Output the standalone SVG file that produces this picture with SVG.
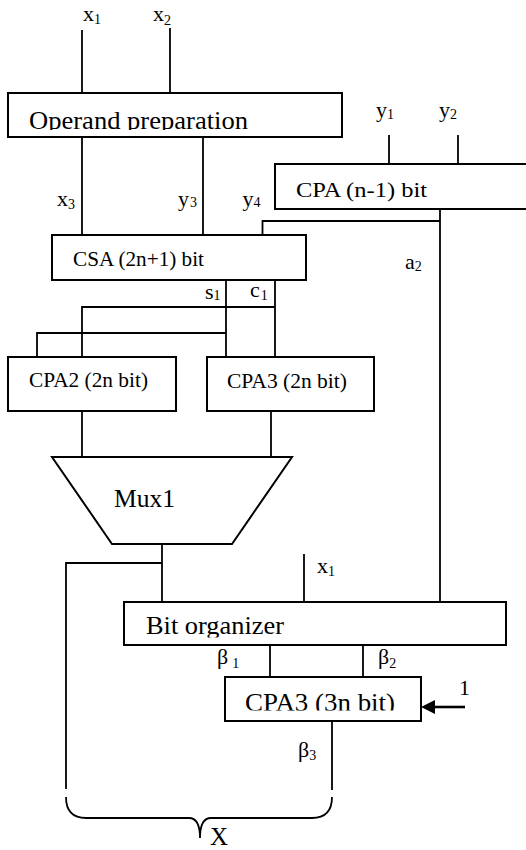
<svg xmlns="http://www.w3.org/2000/svg" width="526" height="850" viewBox="0 0 526 850">
  <style>
    .box { fill: #fff; stroke: #000; stroke-width: 2; }
    .wire { fill: none; stroke: #000; stroke-width: 1.8; }
    text { font-family: 'Liberation Serif', 'DejaVu Serif', serif; fill: #000; }
    .lbl { font-size: 22px; }
    .sub { font-size: 14px; }
  </style>
  <defs>
    <!-- text frames that cut off the bottom of the box captions -->
    <clipPath id="clip-operand"><rect x="8" y="93" width="334" height="37"/></clipPath>
    <clipPath id="clip-bitorg"><rect x="124" y="602" width="382" height="35.5"/></clipPath>
    <clipPath id="clip-cpa3n"><rect x="225" y="677" width="196" height="33.5"/></clipPath>
  </defs>

  <rect width="526" height="850" fill="#fff"/>

  <!-- connectors -->
  <g id="connectors">
    <!-- inputs to operand preparation -->
    <line class="wire" x1="82" y1="30" x2="82" y2="93"/>
    <line class="wire" x1="170" y1="28" x2="170" y2="93"/>
    <!-- operand preparation to CSA -->
    <line class="wire" x1="82" y1="137" x2="82" y2="235"/>
    <line class="wire" x1="203" y1="137" x2="203" y2="235"/>
    <!-- y inputs to CPA (n-1) -->
    <line class="wire" x1="389" y1="135" x2="389" y2="164"/>
    <line class="wire" x1="458" y1="135" x2="458" y2="164"/>
    <!-- CPA (n-1) output: y4 into CSA and a2 down to bit organizer -->
    <polyline class="wire" points="262.5,240.5 262.5,221 440,221"/>
    <line class="wire" x1="440" y1="209" x2="440" y2="603"/>
    <!-- CSA sum/carry to the two CPAs -->
    <line class="wire" x1="226" y1="280" x2="226" y2="357"/>
    <line class="wire" x1="275" y1="280" x2="275" y2="357"/>
    <polyline class="wire" points="275,307 82,307 82,357"/>
    <polyline class="wire" points="226,333 37,333 37,357"/>
    <!-- CPAs to Mux1 -->
    <line class="wire" x1="82" y1="411" x2="82" y2="457"/>
    <line class="wire" x1="271" y1="411" x2="271" y2="457"/>
    <!-- Mux1 output -->
    <line class="wire" x1="162" y1="544" x2="162" y2="602"/>
    <polyline class="wire" points="162,563 66,563 66,789"/>
    <!-- x1 into bit organizer -->
    <line class="wire" x1="304" y1="554" x2="304" y2="602"/>
    <!-- bit organizer to CPA3 (3n) -->
    <line class="wire" x1="270" y1="645" x2="270" y2="677"/>
    <line class="wire" x1="363" y1="645" x2="363" y2="677"/>
    <!-- carry-in 1 -->
    <line x1="465" y1="707" x2="435" y2="707" stroke="#000" stroke-width="2.6"/>
    <path d="M421,707 L435,700 L435,714 Z" fill="#000"/>
    <!-- beta3 output -->
    <line class="wire" x1="332" y1="721" x2="332" y2="790"/>
    <!-- brace gathering the result X -->
    <path class="wire" d="M66,797 Q66,818 86,818 L189,818 Q200,818 200,838 Q200,818 211,818 L312,818 Q332,818 332,797"/>

    <!-- signal labels -->
    <text class="lbl" x="83" y="20.5">x<tspan class="sub" dy="3.5">1</tspan></text>
    <text class="lbl" x="153" y="20.5">x<tspan class="sub" dy="4">2</tspan></text>
    <text class="lbl" x="57" y="205.5">x<tspan class="sub" dy="3">3</tspan></text>
    <text class="lbl" x="178" y="206">y<tspan class="sub" dx="1" dy="1">3</tspan></text>
    <text class="lbl" x="242.5" y="206">y<tspan class="sub" dy="1">4</tspan></text>
    <text class="lbl" x="376" y="116.5">y<tspan class="sub" dy="2">1</tspan></text>
    <text class="lbl" x="439" y="116.5">y<tspan class="sub" dy="2">2</tspan></text>
    <text class="lbl" x="405" y="269">a<tspan class="sub" dy="2">2</tspan></text>
    <text class="lbl" x="205" y="298.5">s<tspan class="sub" dy="1.5">1</tspan></text>
    <text class="lbl" x="250" y="297">c<tspan class="sub" dx="1" dy="3">1</tspan></text>
    <text class="lbl" x="317" y="573">x<tspan class="sub" dy="3">1</tspan></text>
    <text class="lbl" x="217" y="664">β<tspan class="sub" dx="4" dy="4">1</tspan></text>
    <text class="lbl" x="378" y="664">β<tspan class="sub" dy="4">2</tspan></text>
    <text class="lbl" x="298" y="757">β<tspan class="sub" dy="3">3</tspan></text>
    <text class="lbl" x="459" y="695">1</text>
    <text x="210" y="844.5" style="font-size:25px">X</text>
  </g>

  <!-- blocks -->
  <g id="operand-preparation">
    <rect class="box" x="8" y="93" width="334" height="44"/>
    <text x="29" y="128.5" font-size="26" textLength="219" lengthAdjust="spacingAndGlyphs" clip-path="url(#clip-operand)">Operand preparation</text>
  </g>

  <g id="cpa-n1">
    <rect class="box" x="275" y="164" width="260" height="45"/>
    <text x="296" y="196.5" font-size="22" textLength="131" lengthAdjust="spacingAndGlyphs">CPA (n-1) bit</text>
  </g>

  <g id="csa">
    <rect class="box" x="52" y="235" width="254" height="45"/>
    <text x="73" y="265.5" font-size="21" textLength="131" lengthAdjust="spacingAndGlyphs">CSA (2n+1) bit</text>
  </g>

  <g id="cpa2">
    <rect class="box" x="8" y="357" width="168" height="54"/>
    <text x="29" y="387" font-size="21" textLength="119" lengthAdjust="spacingAndGlyphs">CPA2 (2n bit)</text>
  </g>

  <g id="cpa3-2n">
    <rect class="box" x="207" y="357" width="167" height="54"/>
    <text x="227" y="388" font-size="21" textLength="120" lengthAdjust="spacingAndGlyphs">CPA3 (2n bit)</text>
  </g>

  <g id="mux1">
    <polygon class="box" points="52,457 292,457 232,544 112,544"/>
    <text x="114" y="507" font-size="25.5" textLength="61" lengthAdjust="spacingAndGlyphs">Mux1</text>
  </g>

  <g id="bit-organizer">
    <rect class="box" x="124" y="602" width="382" height="43"/>
    <text x="146" y="634" font-size="26" textLength="138" lengthAdjust="spacingAndGlyphs" clip-path="url(#clip-bitorg)">Bit organizer</text>
  </g>

  <g id="cpa3-3n">
    <rect class="box" x="225" y="677" width="196" height="44"/>
    <text x="245" y="711" font-size="26" textLength="150" lengthAdjust="spacingAndGlyphs" clip-path="url(#clip-cpa3n)">CPA3 (3n bit)</text>
  </g>
</svg>
